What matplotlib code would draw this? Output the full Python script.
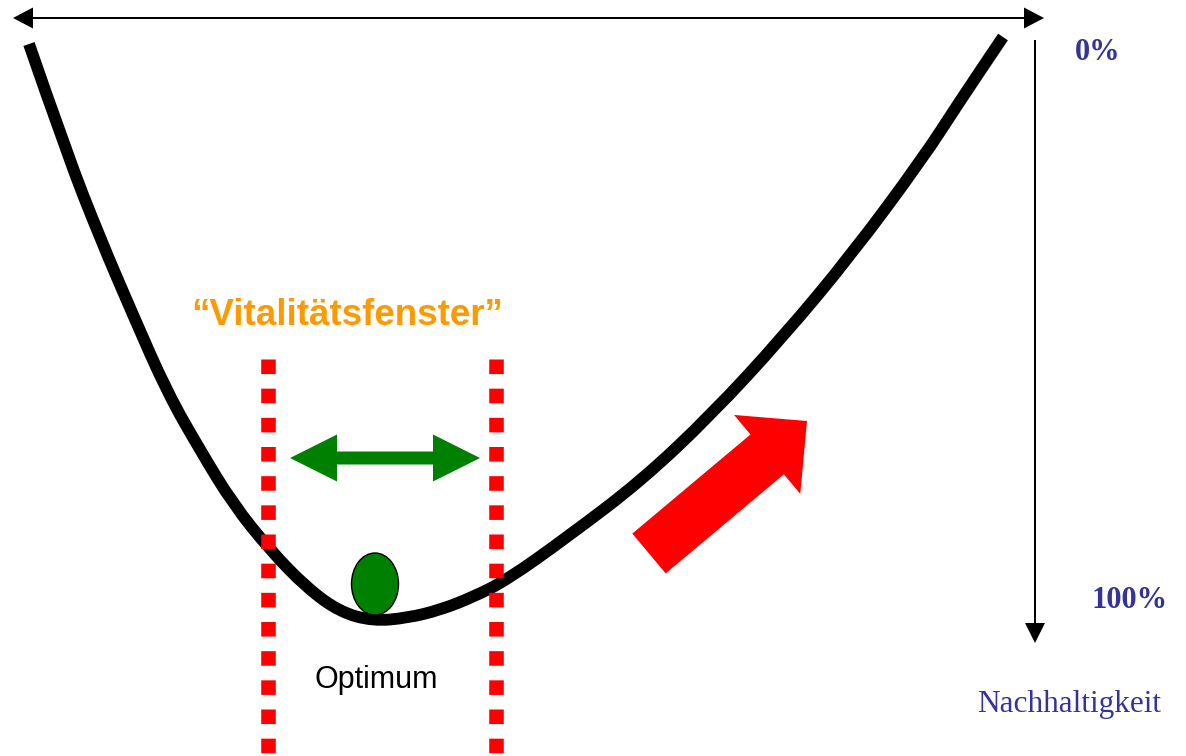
import matplotlib.pyplot as plt
from matplotlib.patches import FancyArrow, Ellipse, PathPatch
from matplotlib.path import Path

# picture is laid out in pixel units (x right, y down)
W, H = 1186, 756

# the U shaped curve
curve_x = [29, 67, 100, 133, 167, 200, 233, 270, 307, 340, 373, 407, 440,
           473, 507, 570, 641, 711, 782, 852, 923, 958, 1003]
curve_y = [44, 154, 238, 315, 392, 450, 504, 550, 588, 612, 621, 618, 610,
           597, 580, 535, 481, 415, 338, 254, 158, 104, 37]

# window borders (red dotted lines)
window_x = [268, 496]
window_top = 359

# ball at the optimum
ball_xy = (375, 584)
ball_size = (47, 62)

# labels
window_label = "\u201cVitalit\u00e4tsfenster\u201d"
optimum_label = "Optimum"
scale_top = "0%"
scale_bottom = "100%"
axis_label = "Nachhaltigkeit"

navy = "#333399"
orange = "#FF9900"
green = "#008000"
red = "#FF0000"

fig = plt.figure(figsize=(W / 100, H / 100), dpi=100)
ax = fig.add_axes([0, 0, 1, 1])
ax.set_xlim(0, W)
ax.set_ylim(H, 0)
ax.axis("off")

# top double arrow
for x0, dx in [(528, 516), (528, -515)]:
    ax.add_patch(FancyArrow(x0, 18, dx, 0, width=2, head_width=21, head_length=20,
                            length_includes_head=True, color="black", lw=0))

# vertical arrow on the right
ax.add_patch(FancyArrow(1035, 40, 0, 603, width=2, head_width=20, head_length=20,
                        length_includes_head=True, color="black", lw=0))

# curve: smooth quadratic path through the read points
pts = list(zip(curve_x, curve_y))
verts = [pts[0]]
codes = [Path.MOVETO]
for i in range(1, len(pts) - 1):
    mid = ((pts[i][0] + pts[i + 1][0]) / 2, (pts[i][1] + pts[i + 1][1]) / 2)
    verts += [pts[i], mid]
    codes += [Path.CURVE3, Path.CURVE3]
verts.append(pts[-1])
codes.append(Path.LINETO)
ax.add_patch(PathPatch(Path(verts, codes), facecolor="none", edgecolor="black",
                       lw=8.5, capstyle="butt", joinstyle="round", zorder=3))

# red dotted window lines
for x in window_x:
    ax.plot([x, x], [window_top, H + 20], color=red, lw=10.5,
            linestyle=(0, (1, 1)), dash_capstyle="butt", zorder=4)

# green double arrow inside the window
for dx in [-95, 95]:
    ax.add_patch(FancyArrow(385, 458, dx, 0, width=13, head_width=47, head_length=47,
                            length_includes_head=True, color=green, lw=0, zorder=5))

# ball
ax.add_patch(Ellipse(ball_xy, ball_size[0], ball_size[1], facecolor=green,
                     edgecolor="black", lw=1, zorder=6))

# big red arrow
ax.add_patch(FancyArrow(649, 553.5, 158, -132.5, width=52, head_width=103, head_length=52,
                        length_includes_head=True, color=red, lw=0, zorder=5))

# texts
ax.text(347, 325, window_label, color=orange, fontsize=26.5, fontweight="bold",
        family="Liberation Sans", ha="center", va="baseline")
ax.text(376, 688, optimum_label, color="black", fontsize=22,
        family="Liberation Sans", ha="center", va="baseline")
ax.text(1098, 60.5, scale_top, color=navy, fontsize=22, fontweight="bold",
        family="Liberation Serif", ha="center", va="baseline")
ax.text(1130, 608, scale_bottom, color=navy, fontsize=22, fontweight="bold",
        family="Liberation Serif", ha="center", va="baseline")
ax.text(1069, 712, axis_label, color=navy, fontsize=22.5,
        family="Liberation Serif", ha="center", va="baseline")

plt.savefig("out.png", dpi=100)
